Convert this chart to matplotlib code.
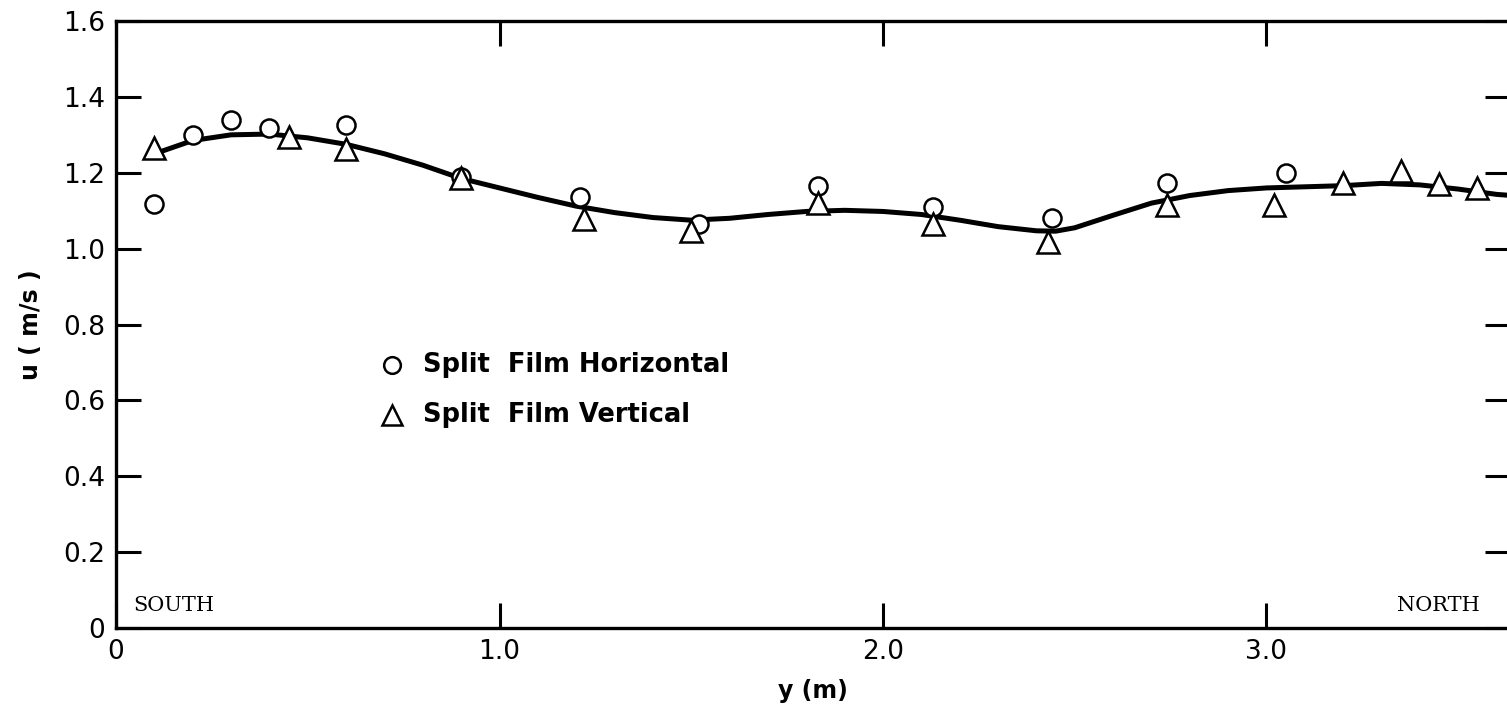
import matplotlib.pyplot as plt

# Split film probe readings
horiz_y = [0.10, 0.20, 0.30, 0.40, 0.60, 0.90, 1.21, 1.52, 1.83, 2.13, 2.44, 2.74, 3.05]
horiz_u = [1.117, 1.299, 1.339, 1.319, 1.325, 1.19, 1.137, 1.066, 1.164, 1.111, 1.082, 1.174, 1.199]

vert_y = [0.10, 0.45, 0.60, 0.90, 1.22, 1.50, 1.83, 2.13, 2.43, 2.74, 3.02, 3.20, 3.35, 3.45, 3.55]
vert_u = [1.264, 1.295, 1.262, 1.185, 1.077, 1.046, 1.121, 1.064, 1.017, 1.114, 1.114, 1.174, 1.205, 1.171, 1.161]

# Hand-drawn mean curve
curve_y = [0.10, 0.20, 0.30, 0.40, 0.50, 0.60, 0.70, 0.80, 0.90, 1.00, 1.10, 1.20,
           1.30, 1.40, 1.50, 1.60, 1.70, 1.80, 1.90, 2.00, 2.10, 2.20, 2.30, 2.40,
           2.45, 2.50, 2.60, 2.70, 2.80, 2.90, 3.00, 3.10, 3.20, 3.30, 3.40, 3.50,
           3.60, 3.64]
curve_u = [1.250, 1.285, 1.300, 1.302, 1.292, 1.275, 1.250, 1.220, 1.185, 1.160, 1.135, 1.112,
           1.095, 1.082, 1.075, 1.080, 1.090, 1.098, 1.101, 1.098, 1.090, 1.075, 1.058, 1.047,
           1.046, 1.055, 1.088, 1.120, 1.140, 1.153, 1.160, 1.163, 1.166, 1.172, 1.168, 1.157,
           1.143, 1.140]

x_ticks = [0, 1.0, 2.0, 3.0]
x_labels = ['0', '1.0', '2.0', '3.0']
y_ticks = [0, 0.2, 0.4, 0.6, 0.8, 1.0, 1.2, 1.4, 1.6]
y_labels = ['0', '0.2', '0.4', '0.6', '0.8', '1.0', '1.2', '1.4', '1.6']

legend_labels = ['Split  Film Horizontal', 'Split  Film Vertical']

fig = plt.figure(figsize=(15.07, 7.2), dpi=100)
ax = fig.add_axes([0.077, 0.1278, 0.925, 0.843])

ax.plot(curve_y, curve_u, color='black', linewidth=3.6, zorder=2, solid_capstyle='round')
ax.plot(horiz_y, horiz_u, linestyle='none', marker='o', markersize=13,
        markerfacecolor='white', markeredgecolor='black', markeredgewidth=1.8, zorder=3)
ax.plot(vert_y, vert_u, linestyle='none', marker='^', markersize=16,
        markerfacecolor='white', markeredgecolor='black', markeredgewidth=1.8, zorder=4)

ax.set_xlim(0, 3.635)
ax.set_ylim(0, 1.6)

ax.set_xticks(x_ticks)
ax.set_xticklabels(x_labels)
ax.set_yticks(y_ticks)
ax.set_yticklabels(y_labels)
ax.tick_params(axis='both', direction='in', length=18, width=2.2, labelsize=19,
               top=True, right=True, pad=8)

for sp in ax.spines.values():
    sp.set_linewidth(2.4)

ax.set_xlabel('y (m)', fontsize=17, fontweight='bold', labelpad=10)
ax.set_ylabel('u ( m/s )', fontsize=17, fontweight='bold', labelpad=14)

# hand-lettered key, placed inside the axes like the original
ax.plot([0.72], [0.694], marker='o', markersize=12,
        markerfacecolor='white', markeredgecolor='black', markeredgewidth=1.8, linestyle='none')
ax.plot([0.72], [0.562], marker='^', markersize=14,
        markerfacecolor='white', markeredgecolor='black', markeredgewidth=1.8, linestyle='none')
ax.text(0.80, 0.694, legend_labels[0], fontsize=18.5, fontweight='bold', va='center')
ax.text(0.80, 0.562, legend_labels[1], fontsize=18.5, fontweight='bold', va='center')

ax.text(0.045, 0.035, 'SOUTH', fontsize=15, family='DejaVu Serif', va='bottom')
ax.text(3.555, 0.035, 'NORTH', fontsize=15, family='DejaVu Serif', va='bottom', ha='right')

fig.savefig('out.png', dpi=100)
